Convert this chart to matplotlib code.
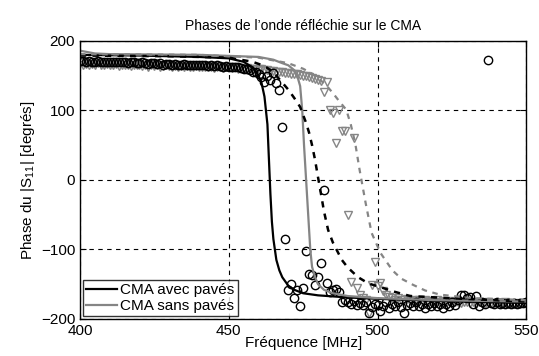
import numpy as np
import matplotlib.pyplot as plt

plt.rcParams['font.family'] = ['Liberation Sans', 'DejaVu Sans']
plt.rcParams['mathtext.fontset'] = 'custom'
plt.rcParams['mathtext.rm'] = 'Liberation Sans'
plt.rcParams['mathtext.it'] = 'Liberation Sans'

# mesures, pas de 1 MHz de 400 a 550 MHz
f_mes = np.arange(400, 551, 1)

phase_avec = [
    171, 171, 170, 171, 170, 170, 171, 170, 169, 170,
    170, 169, 170, 169, 169, 170, 168, 169, 169, 168,
    168, 169, 168, 167, 168, 168, 167, 168, 166, 167,
    167, 166, 167, 166, 166, 167, 165, 166, 165, 166,
    165, 166, 165, 164, 165, 164, 165, 164, 163, 164,
    163, 163, 162, 162, 161, 160, 159, 158, 156, 155,
    153, 148, 141, 150, 144, 154, 140, 130, 76, -85,
    -158, -150, -170, -158, -181, -155, -102, -135, -137, -151,
    -140, -119, -14, -148, -161, -158, -157, -161, -175, -172,
    -176, -178, -174, -180, -177, -180, -176, -191, -183, -178,
    -180, -188, -182, -176, -184, -178, -181, -176, -183, -191,
    -180, -177, -182, -176, -181, -179, -184, -178, -182, -177,
    -181, -178, -184, -179, -182, -176, -180, -172, -166, -165,
    -170, -168, -178, -167, -182, -176, -179, 172, -177, -178,
    -176, -178, -177, -179, -177, -178, -177, -178, -177, -177,
    -176,
]

phase_sans = [
    168, 166, 167, 165, 167, 166, 168, 165, 166, 167,
    166, 165, 167, 164, 166, 165, 166, 164, 165, 166,
    165, 164, 166, 163, 165, 164, 165, 163, 164, 165,
    164, 163, 164, 162, 164, 163, 164, 162, 163, 164,
    163, 162, 163, 162, 163, 161, 162, 163, 161, 162,
    162, 161, 162, 160, 161, 160, 161, 159, 160, 159,
    160, 159, 158, 158, 157, 157, 156, 155, 155, 154,
    154, 153, 153, 152, 151, 150, 149, 148, 146, 145,
    144, 142, 127, 141, 101, 96, 53, 101, 71, 71,
    -50, -147, 60, -155, -165, -170, -172, -191, -151, -118,
    -153, -148, -160, -165, -168, -170, -172, -170, -173, -172,
    -171, -174, -172, -175, -173, -174, -172, -175, -174, -176,
    -173, -175, -174, -176, -175, -174, -176, -175, -177, -176,
    -175, -177, -176, -178, -176, -177, -178, -176, -177, -178,
    -177, -178, -177, -176, -178, -177, -178, -177, -178, -177,
    -177,
]

# simulations
f_sim_avec = [400, 420, 440, 450, 455, 458, 460, 461, 462, 463, 463.5, 464, 464.5,
              465, 465.5, 466, 467, 468, 470, 472, 475, 480, 490, 500, 520, 550]
sim_avec = [180, 179, 177, 175, 170, 162, 150, 140, 120, 80, 30, -20, -60,
            -85, -100, -115, -130, -140, -152, -158, -163, -166, -169, -171, -174, -177]

f_sim_sans = [400, 405, 410, 440, 460, 465, 468, 470, 472, 473, 474, 474.7, 475.3,
              476, 476.7, 477.4, 478, 479, 480, 482, 485, 490, 500, 520, 550]
sim_sans = [186, 182, 181, 180, 177, 173, 168, 165, 158, 150, 135, 100, 50,
            0, -50, -100, -125, -140, -150, -158, -163, -167, -170, -173, -175]

f_sim2_avec = [400, 430, 450, 458, 462, 465, 468, 470, 472, 474, 476, 477, 478, 479,
               480, 481, 482, 483.4, 485, 488, 490, 493.5, 497, 501.6, 505, 511, 524, 550]
sim2_avec = [179, 178, 176, 170, 164, 155, 140, 130, 118, 105, 82, 68, 50, 29,
             4, -20, -45, -72, -90, -115, -126, -140, -149, -155, -160, -167, -170, -175]

f_sim2_sans = [400, 440, 460, 470, 475, 478, 481, 483, 485, 487, 489.5, 491, 492.5,
               494, 496, 498, 501, 505, 508, 512, 516, 521, 532, 550]
sim2_sans = [181, 180, 176, 168, 160, 153, 143, 135, 125, 114, 101, 80, 53,
             14, -33, -76, -105, -130, -142, -151, -159, -165, -170, -173]

gris = '#858585'

fig = plt.figure(figsize=(5.39, 3.56), dpi=100)
ax = fig.add_axes([0.1484, 0.104, 0.828, 0.781])

ax.plot(f_mes, phase_sans, linestyle='none', marker='v', markersize=6,
        markerfacecolor='none', markeredgecolor=gris, markeredgewidth=1.0)
ax.plot(f_mes, phase_avec, linestyle='none', marker='o', markersize=6,
        markerfacecolor='none', markeredgecolor='black', markeredgewidth=1.0)

l1, = ax.plot(f_sim_avec, sim_avec, color='black', lw=1.6, label='CMA avec pavés')
l2, = ax.plot(f_sim_sans, sim_sans, color=gris, lw=1.6, label='CMA sans pavés')
ax.plot(f_sim2_avec, sim2_avec, color='black', lw=1.8, linestyle=(0, (2.5, 2.5)))
ax.plot(f_sim2_sans, sim2_sans, color=gris, lw=1.6, linestyle=(0, (2.5, 2.5)))

ax.set_xlim(400, 550)
ax.set_ylim(-200, 200)
ax.set_xticks([400, 450, 500, 550])
ax.set_yticks([-200, -100, 0, 100, 200])
ax.grid(True, color='black', linestyle=(0, (4, 4)), linewidth=0.8)
ax.tick_params(direction='in', labelsize=11, length=4, top=True, right=True)
for s in ax.spines.values():
    s.set_linewidth(1.0)

ax.set_title('Phases de l\u2019onde réfléchie sur le CMA', fontsize=10, pad=8)
ax.set_xlabel('Fréquence [MHz]', fontsize=11, labelpad=-1)
ax.set_ylabel('Phase du |S$_{11}$| [degrés]', fontsize=11, labelpad=3)

leg = ax.legend(handles=[l1, l2], loc='lower left', fontsize=11, frameon=True,
                fancybox=False, handlelength=2.0, handletextpad=0.25,
                borderpad=0.2, labelspacing=0.1, borderaxespad=0.2)
leg.get_frame().set_edgecolor('black')
leg.get_frame().set_linewidth(1.0)

fig.savefig('out.png', dpi=100)
